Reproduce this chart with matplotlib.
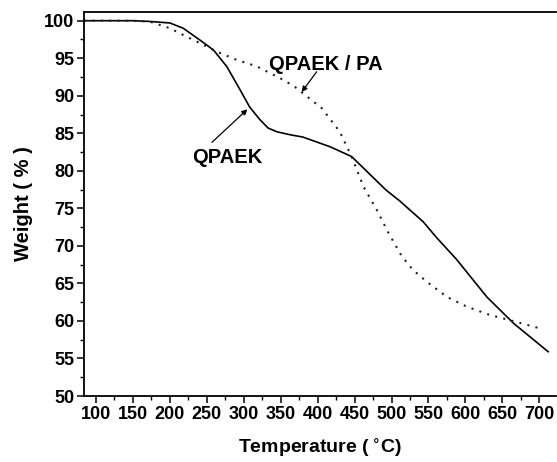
import matplotlib
matplotlib.use("Agg")
import matplotlib.pyplot as plt
from matplotlib.ticker import MultipleLocator

plt.rcParams['font.family'] = ['Liberation Sans', 'DejaVu Sans']
plt.rcParams['font.weight'] = 'bold'

# QPAEK (solid)
T_qpaek = [84, 150, 173, 200, 218, 241, 259, 277, 295, 308, 322, 333, 345, 363,
           380, 417, 446, 493, 511, 543, 561, 588, 629, 665, 712]
W_qpaek = [100, 100, 99.9, 99.7, 99.0, 97.4, 96.1, 93.9, 90.8, 88.5, 86.8, 85.7,
           85.2, 84.8, 84.5, 83.2, 81.9, 77.4, 76.0, 73.2, 71.1, 68.2, 63.2, 59.7, 55.9]

# QPAEK / PA (dotted)
T_pa = [84, 150, 173, 200, 218, 241, 263, 290, 318, 354, 372, 378, 406, 430,
        446, 462, 480, 496, 514, 529, 548, 575, 602, 633, 660, 705]
W_pa = [100, 100, 99.87, 99.0, 98.1, 97.0, 95.9, 94.8, 93.9, 92.1, 91.0, 90.5,
        88.3, 85.2, 81.9, 77.9, 74.8, 71.7, 68.6, 66.8, 65.2, 63.2, 61.9, 60.8,
        60.1, 58.9]

x_ticks = list(range(100, 701, 50))
y_ticks = list(range(50, 101, 5))

fig = plt.figure(figsize=(5.57, 4.62), dpi=100)
ax = fig.add_axes([84/557, 66/462, 472/557, 384/462])

ax.plot(T_qpaek, W_qpaek, color='black', lw=1.2, solid_joinstyle='round')
ax.plot(T_pa, W_pa, color='#222222', lw=1.5, linestyle=(0, (1, 3)))

ax.set_xlim(83.8, 722.6)
ax.set_ylim(50, 101.16)
ax.set_xticks(x_ticks)
ax.set_yticks(y_ticks)
ax.xaxis.set_minor_locator(MultipleLocator(25))
ax.yaxis.set_minor_locator(MultipleLocator(2.5))
ax.tick_params(which='major', direction='out', length=5, width=1.1, labelsize=13, pad=2)
ax.tick_params(which='minor', direction='out', length=3, width=1.0)
for lab in ax.get_xticklabels() + ax.get_yticklabels():
    lab.set_fontweight('bold')

for s in ['left', 'bottom', 'top']:
    ax.spines[s].set_linewidth(1.3)
ax.spines['right'].set_visible(False)

ax.set_xlabel('Temperature ($\\mathbf{\\,^{\\circ}}$C)', fontsize=14, fontweight='bold', labelpad=10)
ax.set_ylabel('Weight ( % )', fontsize=14.5, fontweight='bold', labelpad=8)

arrow_kw = dict(arrowstyle='-|>', lw=0.9, color='black', mutation_scale=8,
                shrinkA=0, shrinkB=0)
ax.text(411, 94.2, 'QPAEK / PA', ha='center', va='center', fontsize=14.5, fontweight='bold')
ax.annotate('', xy=(378.4, 90.5), xytext=(398.7, 93.2), arrowprops=arrow_kw)
ax.text(277, 81.8, 'QPAEK', ha='center', va='center', fontsize=14.5, fontweight='bold')
ax.annotate('', xy=(305, 88.2), xytext=(257, 83.8), arrowprops=arrow_kw)

fig.savefig('out.png', dpi=100)
